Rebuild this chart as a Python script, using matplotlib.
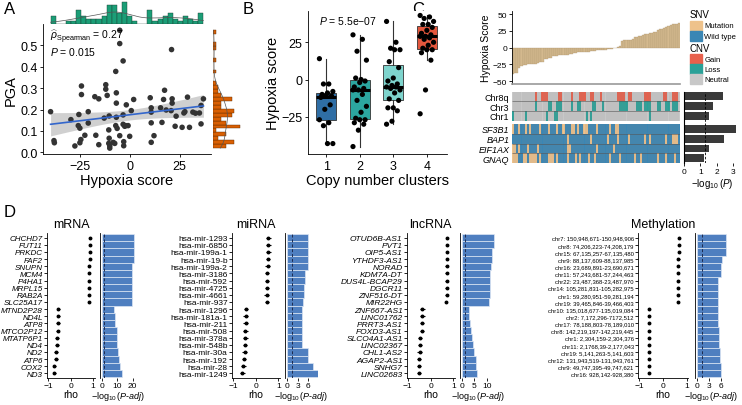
import numpy as np
import matplotlib
matplotlib.use("Agg")
import matplotlib.pyplot as plt
from matplotlib.patches import Rectangle
from matplotlib.colors import ListedColormap

plt.rcParams.update({
    "font.family": ["Liberation Sans", "DejaVu Sans"],
    "mathtext.fontset": "custom",
    "mathtext.rm": "Liberation Sans",
    "mathtext.it": "Liberation Sans:italic",
    "mathtext.bf": "Liberation Sans:bold",
    "axes.linewidth": 0.6,
    "xtick.major.width": 0.6, "ytick.major.width": 0.6,
    "xtick.major.size": 2.5, "ytick.major.size": 2.5,
    "xtick.major.pad": 1.5, "ytick.major.pad": 1.5,
})

# ---------------- panel A: hypoxia score vs PGA (80 samples) ----------------
hyp = [-39.7, -38.0, -37.8, -29.5, -27.5, -25.5, -24.2, -24.2, -25.8, -25.0,
       -24.5, -25.0, -22.5, -20.8, -20.8, -17.5, -15.5, -17.0, -15.5, -12.8,
       -12.0, -12.0, -11.3, -10.3, -10.5, -10.3, -10.5, -10.0, -10.0, -8.3,
       -7.5, -7.0, -6.7, -6.7, -6.7, -7.0, -6.3, -5.0, -5.0, -5.0,
       -3.3, -3.3, -3.3, -2.5, -3.0, -3.0, -1.7, -2.0, -0.8, 0.0,
       2.0, 0.8, 10.3, 10.8, 10.8, 10.8, 10.8, 12.2, 15.5, 17.0,
       17.5, 16.2, 18.3, 21.0, 21.3, 21.3, 20.8, 22.8, 23.3, 26.3,
       27.7, 27.2, 29.0, 30.0, 31.7, 33.0, 35.0, 35.8, 35.8, 37.0]
pga = [0.190, 0.055, 0.045, 0.153, 0.030, 0.177, 0.310, 0.270, 0.125, 0.113,
       0.060, 0.045, 0.080, 0.190, 0.137, 0.260, 0.250, 0.080, 0.036, 0.160,
       0.316, 0.295, 0.266, 0.170, 0.105, 0.066, 0.042, 0.030, 0.020, 0.047,
       0.042, 0.378, 0.278, 0.230, 0.164, 0.125, 0.112, 0.570, 0.508, 0.078,
       0.427, 0.175, 0.131, 0.122, 0.050, 0.031, 0.222, 0.125, 0.125, 0.075,
       0.247, 0.195, 0.255, 0.208, 0.188, 0.138, 0.047, 0.078, 0.208, 0.247,
       0.290, 0.140, 0.198, 0.480, 0.250, 0.230, 0.195, 0.122, 0.169, 0.117,
       0.190, 0.184, 0.258, 0.117, 0.188, 0.183, 0.184, 0.133, 0.219, 0.250]

# ---------------- panel B: hypoxia score by copy number cluster ----------------
clusters = ["1", "2", "3", "4"]
clu_scores = [
    [14, -3, -3, -8, -9, -10, -11, -11, -12, -17, -20, -27, -29, -31, -43, -43],
    [30, 27, 19, 13, 0, 1, -1, -2, -5, -6, -7, -7, -10, -14, -18, -22, -26,
     -27, -27, -29, -30, -34, -45],
    [39, 25, 21, 20, 20, 12, 8, 1, -1, -3, -4, -5, -5, -6, -7, -9, -13, -14,
     -19, -19, -21, -28, -30],
    [43, 42, 41, 39, 37, 37, 35, 33, 31, 30, 29, 29, 28, 27, 25, 23, 21, 20,
     20, 18, 13, -7, -23],
]
clu_colors = ["#2F6EA5", "#2CA6A0", "#7ED4CD", "#E4573D"]

# ---------------- panel C: alterations ordered by hypoxia score ----------------
cnv_rows = ["Chr8q", "Chr3", "Chr1"]
cnv_calls = [
    "NNNNNNNNNN NGNNGGGNNN NNGGNNNNGN NNGGGNNGGN NNGNNNNNNN GGGGNGGNNN NNNGGGNNNN NNGGNNGGGN",
    "NNNNNNNNNN NLNNNNNLLN NLLLNNNNLN NLLNNNNNLL NNNLNNNNNN NLLLLNNNNL LLNLLLNNNL LNNLLNLLLN",
    "LNNNNNLNNN NNNNNNLNNN LLNNNNNNNN NNNNNLNLNN NNNNNNNNNN NNNNNNNNNN NNNNNLNNNN NNNNNNNNNN",
]
snv_rows = ["SF3B1", "BAP1", "EIF1AX", "GNAQ"]
snv_calls = [
    "MWWMWWMWMW WWWMWWWMWW WMWWMWWWMM WMWWMMWWWW MWWWWWMWWM MWWWWWWWWW WWWWWWWWWW WWWWWWWWWW",
    "WWWWWWWWWW WWWWWWWWWW WWWWWWMWWW WWWWWWWMWW WWWWWMWWWW MWWWWMWWWW WWWMWMWWWW WWWMWWMMMW",
    "MMWMWWWMWW WWMWWWWWWW WWWWWWMMWW WWWWWWWWWW MWWWWWWWMW WWWWWWWWWW WWWWWWWWWW WWWWWWWWWW",
    "MMMWWMMWMM MMWMWWWMMM WMWWWWMWWW MWMWWWMWWM WWWWWWMWWW WMWWWWWWMW WMWWWWWWWM WWWMWWWMWW",
]
alt_logp = [2.35, 1.75, 1.5, 3.15, 2.45, 1.5, 1.2]

# ---------------- panel D: top correlated features ----------------
mrna_genes = ["CHCHD7", "FUT11", "PRKDC", "FAF2", "SNUPN", "MCM4", "P4HA1", "MRPL15",
              "RAB2A", "SLC25A17", "MTND2P28", "ND4L", "ATP8", "MTCO2P12", "MTATP6P1",
              "ND4", "ND2", "ATP6", "COX2", "ND3"]
mrna_rho = [0.84, 0.84, 0.84, 0.84, 0.83, 0.83, 0.83, 0.83, 0.82, 0.82,
            -0.55, -0.55, -0.58, -0.59, -0.62, -0.62, -0.65, -0.65, -0.73, -0.73]
mrna_err = [0.04] * 10 + [0.08] * 10
mrna_padj = [20.6, 20.6, 20.6, 20.6, 19.8, 19.4, 19.4, 19.4, 19.4, 19.4,
             8.1, 8.5, 8.9, 9.6, 9.6, 10.0, 10.6, 11.1, 12.1, 12.8]

mirna_genes = ["hsa-mir-1293", "hsa-mir-6850", "hsa-mir-199a-1", "hsa-mir-19-b",
               "hsa-mir-199a-2", "hsa-mir-3186", "hsa-mir-592", "hsa-mir-4725",
               "hsa-mir-4661", "hsa-mir-937", "hsa-mir-1296", "hsa-mir-181a-1",
               "hsa-mir-211", "hsa-mir-508", "hsa-mir-378a", "hsa-mir-548b",
               "hsa-mir-30a", "hsa-mir-192", "hsa-mir-28", "hsa-mir-1249"]
mirna_rho = [0.55, 0.55, 0.55, 0.53, 0.52, 0.50, 0.50, 0.50, 0.48, 0.50,
             -0.44, -0.45, -0.45, -0.46, -0.46, -0.47, -0.50, -0.52, -0.55, -0.60]
mirna_err = [0.1] * 20
mirna_padj = [5.8, 5.8, 5.8, 5.8, 5.8, 5.1, 5.1, 4.9, 4.9, 4.6,
              4.3, 4.3, 4.3, 4.3, 4.3, 4.3, 5.8, 5.8, 7.2, 8.7]

lnc_genes = ["OTUD6B-AS1", "PVT1", "OIP5-AS1", "YTHDF3-AS1", "NORAD", "KDM7A-DT",
             "DUS4L-BCAP29", "DGCR11", "ZNF516-DT", "MIR22HG", "ZNF667-AS1", "LINC01762",
             "PRRT3-AS1", "FOXD3-AS1", "SLCO4A1-AS1", "LINC02367", "CHL1-AS2",
             "AGAP2-AS1", "SNHG7", "LINC02683"]
lnc_rho = [0.72, 0.72, 0.72, 0.72, 0.71, 0.70, 0.70, 0.70, 0.70, 0.68,
           -0.35, -0.35, -0.39, -0.39, -0.44, -0.47, -0.48, -0.49, -0.50, -0.50]
lnc_err = [0.06] * 10 + [0.09] * 10
lnc_padj = [12.9, 12.9, 12.1, 12.1, 11.6, 11.3, 11.3, 11.3, 11.3, 10.9,
            2.9, 2.9, 3.3, 3.6, 4.0, 4.7, 4.9, 5.6, 5.7, 6.0]

meth_sites = ["chr7: 150,948,671-150,948,906", "chr8: 74,206,223-74,208,179",
              "chr15: 67,135,257-67,135,480", "chr9: 88,137,609-88,137,985",
              "chr16: 23,689,891-23,690,671", "chr11: 57,243,681-57,244,463",
              "chr22: 23,487,368-23,487,970", "chr14: 105,281,831-105,282,975",
              "chr1: 59,280,951-59,281,194", "chr19: 39,465,846-39,466,403",
              "chr10: 135,018,677-135,019,084", "chr2: 7,172,296-7172,512",
              "chr17: 78,188,803-78,189,010", "chr8: 142,219,197-142,219,445",
              "chr1: 2,304,159-2,304,376", "chr11: 2,1768,39-2,177,043",
              "chr19: 5,141,263-5,141,603", "chr12: 131,943,519-131,943,761",
              "chr9: 49,747,395-49,747,621", "chr16: 928,142-928,380"]
meth_rho = [0.67, 0.67, 0.67, 0.64, 0.63, 0.63, 0.62, 0.62, 0.61, 0.61,
            -0.60, -0.60, -0.60, -0.60, -0.60, -0.60, -0.60, -0.60, -0.60, -0.60]
meth_err = [0.05] * 20
meth_padj = [7.3, 7.3, 7.3, 6.25, 6.0, 6.0, 5.4, 5.4, 5.4, 5.4,
             5.4, 5.4, 5.4, 5.6, 5.6, 5.6, 5.8, 5.8, 6.0, 6.0]

W, H, DPI = 742, 406, 100
fig = plt.figure(figsize=(W / DPI, H / DPI), dpi=DPI)


def ax_px(l, t, r, b, **kw):
    return fig.add_axes([l / W, 1 - b / H, (r - l) / W, (b - t) / H], **kw)


def classic(ax, left=True, bottom=True):
    ax.spines["top"].set_visible(False)
    ax.spines["right"].set_visible(False)
    ax.spines["left"].set_visible(left)
    ax.spines["bottom"].set_visible(bottom)


def kde(x, grid):
    x = np.asarray(x, float)
    iqr = np.subtract(*np.percentile(x, [75, 25]))
    bw = 0.9 * min(x.std(ddof=1), iqr / 1.34) * len(x) ** -0.2
    z = (grid[:, None] - x[None, :]) / bw
    return np.exp(-0.5 * z ** 2).sum(1) / (len(x) * bw * np.sqrt(2 * np.pi))


over = fig.add_axes([0, 0, 1, 1], zorder=-1)
over.set_xlim(0, W)
over.set_ylim(H, 0)
over.axis("off")

# ---------------- A ----------------
x = np.array(hyp)
y = np.array(pga)
axA = ax_px(43, 25.4, 211, 155)
classic(axA)
axA.scatter(x, y, s=16, color="#333333", edgecolor="none", zorder=3)
b1, b0 = np.polyfit(x, y, 1)
xs = np.linspace(x.min(), x.max(), 100)
fit = b0 + b1 * xs
s = np.sqrt(np.sum((y - (b0 + b1 * x)) ** 2) / (len(x) - 2))
se = s * np.sqrt(1 / len(x) + (xs - x.mean()) ** 2 / np.sum((x - x.mean()) ** 2))
axA.fill_between(xs, fit - 1.99 * se, fit + 1.99 * se, color="#BDBDBD", alpha=0.7, lw=0, zorder=2)
axA.plot(xs, fit, color="#3366CC", lw=1.2, zorder=4)
axA.set_xlim(-43.5, 40.8)
axA.set_ylim(-0.0075, 0.5975)
axA.set_xticks([-25, 0, 25])
axA.set_yticks([0.0, 0.1, 0.2, 0.3, 0.4, 0.5])
axA.set_yticklabels(["0.0", "0.1", "0.2", "0.3", "0.4", "0.5"])
axA.tick_params(labelsize=9)
axA.set_xlabel("Hypoxia score", fontsize=10.5, labelpad=1)
axA.set_ylabel("PGA", fontsize=10.5, labelpad=2)
axA.text(0.04, 0.97, r"$\widehat{\rho}_{\mathrm{Spearman}}$ = 0.27", transform=axA.transAxes,
         fontsize=7.5, va="top")
axA.text(0.04, 0.84, r"$P$ = 0.015", transform=axA.transAxes, fontsize=7.5, va="top")

axT = ax_px(43, 2, 211, 25)
axT.hist(x, bins=30, density=True, color="#1B9E77", edgecolor="#1f3d33", lw=0.3)
gx = np.linspace(x.min(), x.max(), 200)
axT.plot(gx, kde(x, gx), color="#555555", lw=0.5)
axT.set_xlim(axA.get_xlim())
axT.axis("off")

axR = ax_px(213, 25.4, 241, 155)
axR.hist(y, bins=30, density=True, orientation="horizontal", color="#D95F02",
         edgecolor="#5a2a00", lw=0.3)
gy = np.linspace(y.min(), y.max(), 200)
axR.plot(kde(y, gy), gy, color="#555555", lw=0.5)
axR.set_ylim(axA.get_ylim())
axR.axis("off")

# ---------------- B ----------------
axB = ax_px(308, 12, 447, 155)
classic(axB)
bp = axB.boxplot(clu_scores, positions=range(1, 5), widths=0.6, patch_artist=True,
                 showfliers=False, whis=1.5, showcaps=False,
                 medianprops=dict(color="black", lw=2.2),
                 whiskerprops=dict(color="#333333", lw=0.8),
                 boxprops=dict(edgecolor="#333333", lw=0.6))
for patch, c in zip(bp["boxes"], clu_colors):
    patch.set_facecolor(c)
for i, vals in enumerate(clu_scores):
    offs = np.array([((k * 7) % 11 - 5) / 5 * 0.2 for k in range(len(vals))])
    axB.scatter(i + 1 + offs, vals, s=14, color="black", edgecolor="none", zorder=5)
axB.set_xlim(0.46, 4.6)
axB.set_ylim(-50, 46)
axB.set_yticks([-25, 0, 25])
axB.set_xticks([1, 2, 3, 4])
axB.set_xticklabels(clusters)
axB.tick_params(labelsize=9)
axB.set_xlabel("Copy number clusters", fontsize=10.5, labelpad=1)
axB.set_ylabel("Hypoxia score", fontsize=10.5, labelpad=1)
axB.text(0.08, 0.98, r"$P$ = 5.5e$-$07", transform=axB.transAxes, fontsize=7.5, va="top")

# ---------------- C ----------------
order = np.sort(x)
n = len(order)
axC = ax_px(512, 12, 680, 85)
axC.bar(np.arange(n), order, width=1.0, color="#D4B98E", edgecolor="#a8916b", lw=0.2)
axC.set_xlim(-0.5, n - 0.5)
axC.set_ylim(-54, 54.5)
axC.set_yticks([-50, -25, 0, 25, 50])
axC.set_xticks([])
classic(axC)
axC.spines["bottom"].set_color("#999999")
axC.spines["bottom"].set_linewidth(1.2)
axC.tick_params(labelsize=6, length=2)
axC.set_ylabel("Hypoxia Score", fontsize=7.5, labelpad=1)

col_map = {"N": 0, "G": 1, "L": 2, "M": 3, "W": 4}
heat_cols = ["#C8C8C8", "#E8604C", "#2AA198", "#EEC28B", "#3A86B4"]
cmap = ListedColormap(heat_cols)
axH = ax_px(512, 92.5, 680, 164)
cnv_mat = np.array([[col_map[c] for c in "".join(r.split())] for r in cnv_calls])
snv_mat = np.array([[col_map[c] for c in "".join(r.split())] for r in snv_calls])
xe = np.arange(n + 1)
axH.pcolormesh(xe, [0, 1, 2, 3], cnv_mat, cmap=cmap, vmin=-0.5, vmax=4.5,
               edgecolors="none", antialiased=False)
axH.pcolormesh(xe, [3.35, 4.35, 5.35, 6.35, 7.35], snv_mat, cmap=cmap, vmin=-0.5,
               vmax=4.5, edgecolors="none", antialiased=False)
axH.vlines(np.arange(1, n), 0, 3, color="#8a8a8a", lw=0.3, alpha=0.6)
axH.vlines(np.arange(1, n), 3.35, 7.35, color="#8a8a8a", lw=0.3, alpha=0.6)
axH.hlines([1, 2, 4.35, 5.35, 6.35], 0, n, color="#555555", lw=0.4)
axH.set_xlim(0, n)
axH.set_ylim(7.35, 0)
row_c = [0.5, 1.5, 2.5, 3.85, 4.85, 5.85, 6.85]
axH.set_yticks(row_c)
axH.set_yticklabels(cnv_rows + snv_rows)
for k, tl in enumerate(axH.get_yticklabels()):
    if k >= 3:
        tl.set_style("italic")
axH.set_xticks([])
axH.tick_params(axis="y", length=0, labelsize=6.5, pad=2)
for sp in axH.spines.values():
    sp.set_visible(False)

axP = ax_px(684, 92.5, 740, 164)
axP.barh(row_c, alt_logp, height=0.8, color="#3A3A3A")
axP.axvline(1.3, color="black", lw=0.6, ls=(0, (3, 2)))
axP.set_ylim(7.35, 0)
axP.set_xlim(0, 3.4)
axP.set_xticks([0, 1, 2, 3])
axP.set_yticks([])
classic(axP, bottom=False)
axP.spines["left"].set_linewidth(0.8)
axP.tick_params(labelsize=6, length=2)
axP.set_xlabel(r"$-\log_{10}(P)$", fontsize=7, labelpad=1)

# legend C
over.text(690, 15, "SNV", fontsize=7, va="center")
leg_items = [(21.7, heat_cols[3], "Mutation"), (32.3, heat_cols[4], "Wild type")]
for top, c, lab in leg_items:
    over.add_patch(Rectangle((690, top), 12, 10, color=c))
    over.text(704.5, top + 5, lab, fontsize=5.5, va="center")
over.text(690, 49, "CNV", fontsize=7, va="center")
leg_items = [(55, heat_cols[1], "Gain"), (65, heat_cols[2], "Loss"), (75, heat_cols[0], "Neutral")]
for top, c, lab in leg_items:
    over.add_patch(Rectangle((690, top), 12, 10, color=c))
    over.text(704.5, top + 5, lab, fontsize=5.5, va="center")


# ---------------- D ----------------
def forest(rl, rr, bl, br, labels, rho, err, padj, rxlim, bxlim, bticks, title,
           italic, lab_fs):
    yy = np.arange(len(labels))
    ar = ax_px(rl, 234, rr, 379)
    classic(ar)
    ar.errorbar(rho, yy, xerr=err, fmt="o", ms=1.8, color="black", elinewidth=0.8,
                capsize=0)
    ar.set_ylim(19.65, -0.65)
    ar.set_xlim(*rxlim)
    ar.set_xticks([-1, 0, 1])
    ar.set_yticks(yy)
    ar.set_yticklabels(labels, fontsize=lab_fs, style="italic" if italic else "normal")
    ar.tick_params(axis="y", length=2, pad=1)
    ar.tick_params(axis="x", labelsize=6, length=2, pad=1)
    ar.set_xlabel("rho", fontsize=7.5, labelpad=0)
    ar.set_title(title, fontsize=9, pad=4)
    ab = ax_px(bl, 234, br, 379)
    ab.barh(yy, padj, height=1.0, color="#4F7FC0", edgecolor="#dce6f4", lw=0.5)
    ab.axvline(1.3, color="#1d2b4f", lw=0.7, ls=(0, (3, 2)))
    ab.set_ylim(19.65, -0.65)
    ab.set_xlim(*bxlim)
    ab.set_xticks(bticks)
    ab.set_yticks([])
    classic(ab, bottom=False)
    ab.tick_params(axis="x", labelsize=6, length=2, pad=1)
    ab.set_xlabel(r"$-\log_{10}(\mathit{P}$-$\mathit{adj})$", fontsize=6.5, labelpad=0)


forest(47, 95, 100, 137, mrna_genes, mrna_rho, mrna_err, mrna_padj,
       (-1.06, 1.08), (-1.1, 22.8), [0, 10, 20], "mRNA", True, 5.8)
forest(231.7, 280, 285, 318, mirna_genes, mirna_rho, mirna_err, mirna_padj,
       (-1.07, 1.07), (-0.66, 8.77), [0, 3, 6], "miRNA", False, 6)
forest(406.7, 455, 460, 496, lnc_genes, lnc_rho, lnc_err, lnc_padj,
       (-1.04, 1.07), (-0.68, 13.7), [0, 5, 10], "lncRNA", True, 6)
forest(638, 688, 695, 728, meth_sites, meth_rho, meth_err, meth_padj,
       (-1.05, 1.04), (-0.43, 7.8), [0, 3, 6], "Methylation", False, 4.2)

for lab, px, py in [("A", 4, 9), ("B", 243, 9), ("C", 412, 9), ("D", 4, 213)]:
    over.text(px, py, lab, fontsize=12, va="center")

fig.savefig("out.png", dpi=DPI)
